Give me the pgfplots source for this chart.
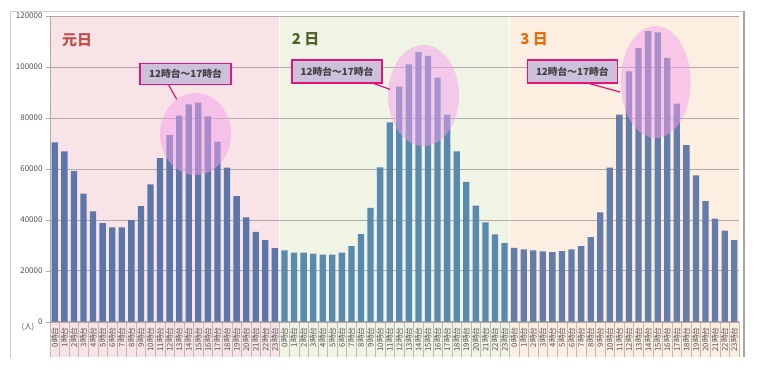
\documentclass[border=0pt]{standalone}
\usepackage{pgfplots}
\pgfplotsset{compat=1.18}
\usepackage{fontspec}
\setmainfont{Noto Sans CJK JP}
\definecolor{bgA}{RGB}{248,228,230}
\definecolor{bgB}{RGB}{240,244,229}
\definecolor{bgC}{RGB}{253,238,226}
\definecolor{barA}{RGB}{93,118,170}
\definecolor{barB}{RGB}{90,137,176}
\definecolor{barC}{RGB}{100,124,170}
\definecolor{gridc}{RGB}{178,170,168}
\definecolor{sepc}{RGB}{196,184,178}
\definecolor{txtc}{RGB}{80,80,80}
\definecolor{dayA}{RGB}{192,80,77}
\definecolor{dayB}{RGB}{79,98,40}
\definecolor{dayC}{RGB}{228,108,10}
\definecolor{boxf}{RGB}{204,192,218}
\definecolor{boxd}{RGB}{224,20,122}
\definecolor{ellc}{RGB}{244,160,236}
\definecolor{framec}{RGB}{205,205,205}
\begin{document}
\begin{tikzpicture}[x=1bp,y=1bp]
\useasboundingbox (0,0) rectangle (757,368);
% backgrounds
\fill[bgA] (50,11) rectangle (278.9,352);
\fill[bgB] (280.4,11) rectangle (508.6,352);
\fill[bgC] (510.1,11) rectangle (739,352);
% frame
\draw[framec, line width=0.8bp] (10,10) -- (10,357) -- (744,357);
\draw[gray!70, line width=2bp] (744,357) -- (744,11);
\begin{axis}[
  at={(50bp,46.3bp)}, anchor=south west,
  scale only axis, width=689bp, height=305.7bp,
  xmin=-0.5, xmax=71.5, ymin=0, ymax=120000,
  axis lines*=left,
  axis line style={-, draw=gridc},
  ytick={0,20000,...,120000},
  scaled y ticks=false,
  yticklabel style={/pgf/number format/fixed, /pgf/number format/1000 sep={}, font=\fontsize{8}{9}\selectfont, text=txtc},
  /pgf/number format/assume math mode=true,
  ymajorgrids, grid style={draw=gridc, line width=0.6bp},
  tick align=outside,
  major tick length=4bp,
  ytick style={draw=gridc},
  major x tick style={draw=none},
  minor xtick={-0.5,0.5,...,71.5},
  minor tick length=35bp,
  minor x tick style={draw=sepc, line width=0.5bp},
  xtick={0,1,...,71},
  xticklabels={0時台,1時台,2時台,3時台,4時台,5時台,6時台,7時台,8時台,9時台,10時台,11時台,12時台,13時台,14時台,15時台,16時台,17時台,18時台,19時台,20時台,21時台,22時台,23時台,
  0時台,1時台,2時台,3時台,4時台,5時台,6時台,7時台,8時台,9時台,10時台,11時台,12時台,13時台,14時台,15時台,16時台,17時台,18時台,19時台,20時台,21時台,22時台,23時台,
  0時台,1時台,2時台,3時台,4時台,5時台,6時台,7時台,8時台,9時台,10時台,11時台,12時台,13時台,14時台,15時台,16時台,17時台,18時台,19時台,20時台,21時台,22時台,23時台},
  xticklabel style={rotate=90, anchor=east, font=\fontsize{7.8}{8}\selectfont, text=txtc, inner sep=1.5bp},
]
\addplot[ybar, bar width=0.66, bar shift=0pt, fill=barA, draw=none] coordinates {
(0,70400) (1,66900) (2,59100) (3,50300) (4,43300) (5,38700) (6,37000) (7,37000)
(8,39900) (9,45400) (10,53900) (11,64200) (12,73200) (13,80900) (14,85300) (15,86000)
(16,80600) (17,70700) (18,60500) (19,49300) (20,41000) (21,35300) (22,32000) (23,28900)};
\addplot[ybar, bar width=0.66, bar shift=0pt, fill=barB, draw=none] coordinates {
(24,28000) (25,27100) (26,27100) (27,26700) (28,26300) (29,26300) (30,27100) (31,29700)
(32,34400) (33,44700) (34,60600) (35,78200) (36,92300) (37,101000) (38,105800) (39,104300)
(40,95800) (41,81300) (42,66900) (43,54900) (44,45600) (45,39000) (46,34300) (47,30850)};
\addplot[ybar, bar width=0.66, bar shift=0pt, fill=barC, draw=none] coordinates {
(48,29000) (49,28400) (50,28000) (51,27600) (52,27300) (53,27700) (54,28400) (55,29700)
(56,33200) (57,42900) (58,60500) (59,81300) (60,98300) (61,107400) (62,114100) (63,113600)
(64,103600) (65,85600) (66,69300) (67,57400) (68,47300) (69,40500) (70,35800) (71,32000)};
\end{axis}
% overlays
\fill[ellc, opacity=0.5] (195.5,234) ellipse [x radius=35.5, y radius=41];
\fill[ellc, opacity=0.5] (423.5,272.5) ellipse [x radius=35.5, y radius=50.5];
\fill[ellc, opacity=0.5] (655.7,286) ellipse [x radius=35, y radius=56];
% day labels
\node[text=dayA, font=\fontsize{15}{16}\selectfont\bfseries] at (77,328) {元日};
\node[text=dayB, font=\fontsize{15}{16}\selectfont\bfseries] at (305.5,329) {2 日};
\node[text=dayC, font=\fontsize{15}{16}\selectfont\bfseries] at (534,329) {3 日};
% callouts
\draw[boxd, line width=1.2bp] (167.7,284.7) -- (176.7,268.7);
\draw[boxd, line width=1.2bp] (366.7,287) -- (390,278.7);
\draw[boxd, line width=1.2bp] (588.3,284.7) -- (620,276);
\node[fill=boxf, draw=boxd, line width=1.5bp, minimum width=91bp, minimum height=21bp, inner sep=0pt, text=txtc!80!black, font=\fontsize{9.8}{10}\selectfont\bfseries] at (185.5,294.2) {12時台～17時台};
\node[fill=boxf, draw=boxd, line width=1.5bp, minimum width=90bp, minimum height=23bp, inner sep=0pt, text=txtc!80!black, font=\fontsize{9.8}{10}\selectfont\bfseries] at (337,296.3) {12時台～17時台};
\node[fill=boxf, draw=boxd, line width=1.5bp, minimum width=90bp, minimum height=23bp, inner sep=0pt, text=txtc!80!black, font=\fontsize{9.8}{10}\selectfont\bfseries] at (572.3,296.3) {12時台～17時台};
\node[text=txtc, font=\fontsize{7.5}{8}\selectfont] at (28,41) {(人)};
\end{tikzpicture}
\end{document}
